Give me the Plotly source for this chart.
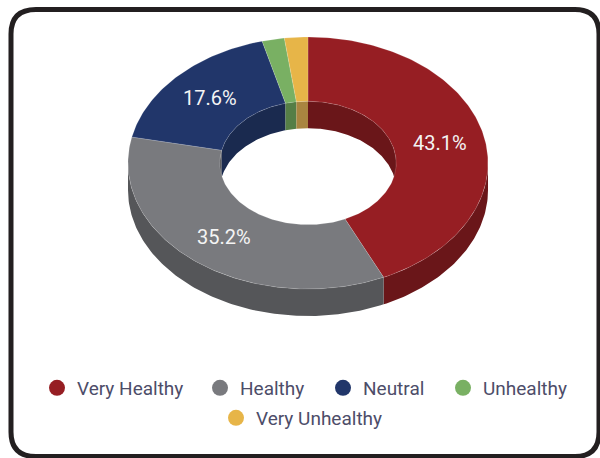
import re
import numpy as np
import plotly.graph_objects as go

# ---- data ----
categories = ["Very Healthy", "Healthy", "Neutral", "Unhealthy", "Very Unhealthy"]
values = [43.1, 35.2, 17.6, 2.0, 2.1]
top_colors = ["#961E23", "#797A7E", "#21366A", "#79B063", "#E7B548"]
side_colors = ["#6A1619", "#555659", "#1A2A4F", "#557E46", "#A98540"]
label_min = 5.0  # only show labels for slices above this percent

# ---- geometry (abstract units; outer radius = 1) ----
K = 0.7        # vertical squash of the tilted disc
DEPTH = 0.15   # extrusion depth
INNER = 0.49   # hole fraction
LABEL_R = 0.75

def pt(r, th, drop=0.0):
    return r * np.sin(th), K * r * np.cos(th) - drop

def arc(r, a0, a1, drop=0.0, n=None):
    if n is None:
        n = max(4, int(abs(a1 - a0) / np.pi * 180))
    th = np.linspace(a0, a1, n)
    x, y = pt(r, th, drop)
    return list(x), list(y)

def poly(xs, ys, color, lw=0.0):
    return go.Scatter(x=xs + [xs[0]], y=ys + [ys[0]], mode="lines", fill="toself",
                      fillcolor=color, line=dict(color="rgba(255,255,255,0.25)", width=lw),
                      hoverinfo="skip", showlegend=False)

def overlap(a0, a1, b0, b1):
    lo, hi = max(a0, b0), min(a1, b1)
    return (lo, hi) if hi > lo else None

total = sum(values)
bounds = []
acc = 0.0
for v in values:
    a0 = acc / total * 2 * np.pi
    acc += v
    a1 = acc / total * 2 * np.pi
    bounds.append((a0, a1))

walls_outer, walls_inner, tops = [], [], []
for (a0, a1), tc, sc in zip(bounds, top_colors, side_colors):
    # outer front wall (visible for angles between 90 and 270 deg)
    ov = overlap(a0, a1, np.pi / 2, 3 * np.pi / 2)
    if ov:
        x1, y1 = arc(1.0, ov[0], ov[1])
        x2, y2 = arc(1.0, ov[1], ov[0], DEPTH)
        walls_outer.append(poly(x1 + x2, y1 + y2, sc))
    # inner back wall (visible for angles < 90 or > 270 deg)
    for b0, b1 in [(0, np.pi / 2), (3 * np.pi / 2, 2 * np.pi)]:
        ov = overlap(a0, a1, b0, b1)
        if ov:
            x1, y1 = arc(INNER, ov[0], ov[1])
            x2, y2 = arc(INNER, ov[1], ov[0], DEPTH)
            walls_inner.append(poly(x1 + x2, y1 + y2, sc))
    # top face
    x1, y1 = arc(1.0, a0, a1)
    x2, y2 = arc(INNER, a1, a0)
    tops.append(poly(x1 + x2, y1 + y2, tc, lw=0.6))

fig = go.Figure(walls_outer + walls_inner + tops)

# legend entries (one small legend per entry so spacing can match)
legend_names = ["legend", "legend2", "legend3", "legend4", "legend5"]
for name, col, lg in zip(categories, top_colors, legend_names):
    fig.add_trace(go.Scatter(x=[None], y=[None], mode="markers", name=name,
                             marker=dict(color=col, size=16, symbol="circle"),
                             showlegend=True, legend=lg))

# data labels
for (a0, a1), v in zip(bounds, values):
    if v / total * 100 < label_min:
        continue
    mid = (a0 + a1) / 2
    lx, ly = pt(LABEL_R, mid)
    fig.add_annotation(x=lx, y=ly, text=f"{v / total * 100:.1f}%", showarrow=False,
                       font=dict(family="Roboto", size=20, color="#F4F4F4"),
                       xanchor="center", yanchor="middle")

W, H = 600, 458
CX, CY, S = 308, 163, 180
xr = [(0 - CX) / S, (W - CX) / S]
yr = [(CY - H) / S, CY / S]

leg_font = dict(family="Roboto", size=19, color="#4D4D69")
marker_centers = [(57, 388), (220, 388), (343, 388), (463, 388), (236, 418)]
legend_layouts = {}
for lg, (mx, my) in zip(legend_names, marker_centers):
    legend_layouts[lg] = dict(x=(mx - 20) / W, y=1 - my / H, xanchor="left", yanchor="middle",
                              orientation="h", font=leg_font, bgcolor="rgba(0,0,0,0)",
                              borderwidth=0, itemclick=False, itemdoubleclick=False,
                              itemsizing="trace")

fig.update_layout(
    width=W, height=H,
    margin=dict(l=0, r=0, t=0, b=0),
    paper_bgcolor="white", plot_bgcolor="white",
    xaxis=dict(range=xr, visible=False, fixedrange=True),
    yaxis=dict(range=yr, visible=False, fixedrange=True),
    showlegend=True,
    shapes=[dict(type="path", xref="paper", yref="paper", layer="above",
                 path=("M 36,9.5 L 575,9.5 Q 599,9.5 599,34 L 599,432 Q 599,456.5 575,456.5 "
                       "L 36,456.5 Q 11,456.5 11,432 L 11,34 Q 11,9.5 36,9.5 Z"),
                 line=dict(color="#231F20", width=5))],
    **legend_layouts,
)

# convert the pixel path into paper coordinates
p = fig.layout.shapes[0].path
def conv(m):
    x, y = float(m.group(1)), float(m.group(2))
    return f"{x / W:.5f},{1 - y / H:.5f}"
fig.layout.shapes[0].path = re.sub(r"([\d.]+),([\d.]+)", conv, p)

fig.write_html("out.html")
